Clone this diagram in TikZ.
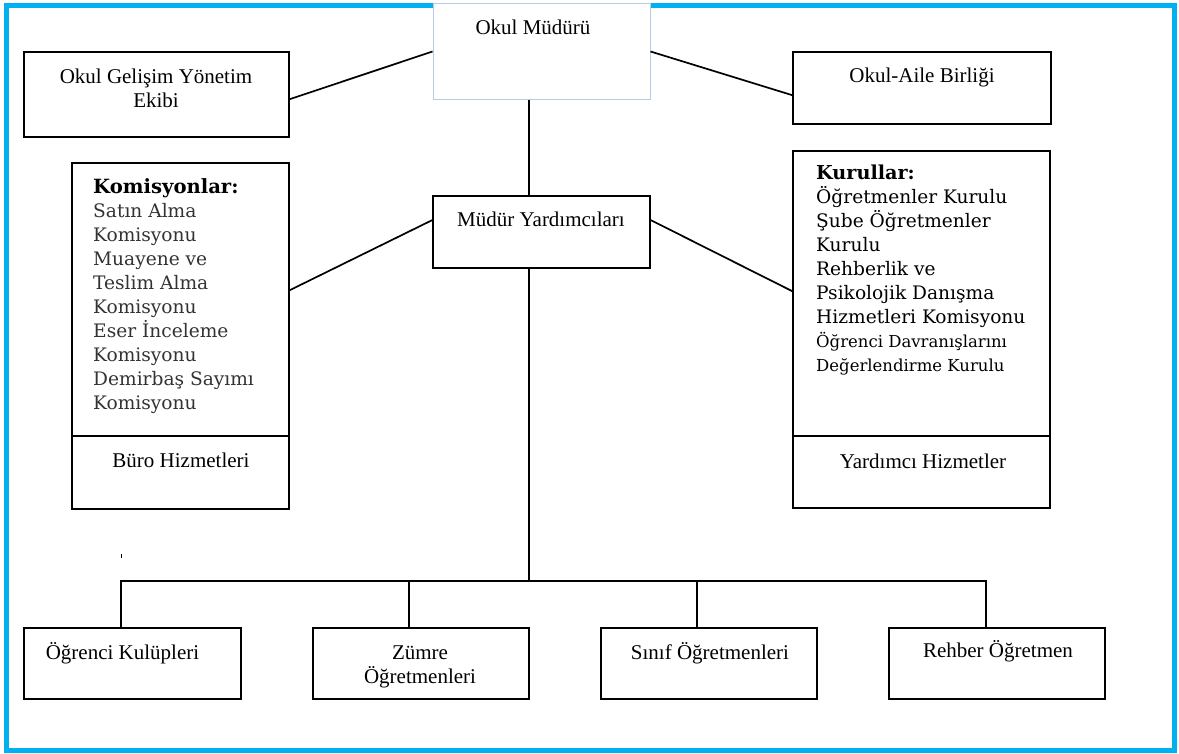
\documentclass[tikz,border=0pt]{standalone}
\usepackage{fontspec}
\setmainfont{Liberation Serif}
\newfontfamily\listfont{DejaVu Serif}
\usetikzlibrary{calc}
\definecolor{frameblue}{RGB}{0,176,240}
\definecolor{softblue}{RGB}{184,204,228}
\begin{document}
\begin{tikzpicture}[x=1pt,y=-1pt,
  box/.style={draw=black,line width=1.7pt,fill=white,inner sep=0pt,rectangle},
  conn/.style={draw=black,line width=1.7pt},
  txt/.style={inner sep=0pt,font=\fontsize{21}{24.5}\selectfont},
  listtxt/.style={inner sep=0pt,align=left,anchor=north west,font=\listfont\fontsize{18.6}{24}\selectfont},
  head/.style={font=\bfseries\fontsize{19.6}{24}\selectfont}]
\useasboundingbox (0,0) rectangle (1179,754);
\fill[white] (0,0) rectangle (1179,754);
\draw[frameblue,line width=5pt] (6,5.5) rectangle (1174.5,750.5);

% boxes
\node[box,draw=softblue,line width=1pt,minimum width=217pt,minimum height=96pt] (om) at (541.5,52) {};
\node[box,minimum width=265pt,minimum height=85pt] (ogye) at (156.5,94.5) {};
\node[box,minimum width=258pt,minimum height=72pt] (oab) at (922,88) {};
\node[box,minimum width=217pt,minimum height=72pt] (my) at (541.5,232) {};
\node[box,minimum width=217pt,minimum height=273pt] (kom) at (180.5,299.5) {};
\node[box,minimum width=217pt,minimum height=73pt] (buro) at (180.5,472.5) {};
\node[box,minimum width=257pt,minimum height=285pt] (kur) at (921.5,293.5) {};
\node[box,minimum width=257pt,minimum height=72pt] (yard) at (921.5,472) {};
\node[box,minimum width=217pt,minimum height=71pt] (b1) at (132.5,663.5) {};
\node[box,minimum width=216pt,minimum height=71pt] (b2) at (421,663.5) {};
\node[box,minimum width=216pt,minimum height=71pt] (b3) at (709,663.5) {};
\node[box,minimum width=216pt,minimum height=71pt] (b4) at (997,663.5) {};

% texts
\node[txt,anchor=base] (omt) at (533,35) {Okul Müdürü};
\node[txt,anchor=north,align=center] (ogyet) at (156,63) {\rule{0pt}{20pt}Okul Gelişim Yönetim\\Ekibi};
\node[txt,anchor=base] (oabt) at (922,83) {Okul-Aile Birliği};
\node[txt,anchor=base] (myt) at (541,227) {Müdür Yardımcıları};
\node[txt,anchor=base] (burot) at (181,467) {Büro Hizmetleri};
\node[txt,anchor=base] (yardt) at (923,468) {Yardımcı Hizmetler};
\node[txt,anchor=base] (b1t) at (122.5,659) {Öğrenci Kulüpleri};
\node[txt,anchor=north,align=center,font=\fontsize{21}{24}\selectfont] (b2t) at (420,639) {\rule{0pt}{20pt}Zümre\\Öğretmenleri};
\node[txt,anchor=base] (b3t) at (710,659) {Sınıf Öğretmenleri};
\node[txt,anchor=base] (b4t) at (998,657) {Rehber Öğretmen};

\node[listtxt] (komt) at (93,173) {\rule{0pt}{20pt}{\bfseries\fontsize{19.6}{24}\selectfont Komisyonlar:}\\
  \color{black!80}Satın Alma\\
  \color{black!80}Komisyonu\\
  \color{black!80}Muayene ve\\
  \color{black!80}Teslim Alma\\
  \color{black!80}Komisyonu\\
  \color{black!80}Eser İnceleme\\
  \color{black!80}Komisyonu\\
  \color{black!80}Demirbaş Sayımı\\
  \color{black!80}Komisyonu};
\node[listtxt] (kurt) at (816,159) {\rule{0pt}{20pt}{\bfseries\fontsize{19.2}{24}\selectfont Kurullar:}\\
  Öğretmenler Kurulu\\
  Şube Öğretmenler\\
  Kurulu\\
  Rehberlik ve\\
  Psikolojik Danışma\\
  Hizmetleri Komisyonu\\
  {\fontsize{16.5}{24}\selectfont Öğrenci Davranışlarını}\\
  {\fontsize{16.5}{24}\selectfont Değerlendirme Kurulu}};

% connectors
\coordinate (jl) at (121,581);
\coordinate (jr) at (986,581);
\coordinate (j2) at (409,581);
\coordinate (j3) at (697,581);
\coordinate (jm) at (529,581);
\draw[conn] ($(ogye.north east)+(0,48)$) -- ($(om.north west)+(0,48)$);
\draw[conn] ($(om.north east)+(0,48)$) -- ($(oab.north west)+(0,44)$);
\draw[conn] ($(om.south)+(-12.5,0)$) -- ($(my.north)+(-12.5,0)$);
\draw[conn] ($(my.north west)+(0,25)$) -- ($(kom.north east)+(0,128)$);
\draw[conn] ($(my.north east)+(0,25)$) -- ($(kur.north west)+(0,141)$);
\draw[conn] ($(my.south)+(-12.5,0)$) -- (jm);
\draw[black,line width=2.6pt] (529,484) -- (529,495);
\draw[conn] (b1.north -| jl) -- (jl) -- (jr) -- (b4.north -| jr);
\draw[conn] (b2.north -| j2) -- (j2);
\draw[conn] (b3.north -| j3) -- (j3);
\fill[black] (120.5,554) rectangle (121.7,558);
\end{tikzpicture}
\end{document}
